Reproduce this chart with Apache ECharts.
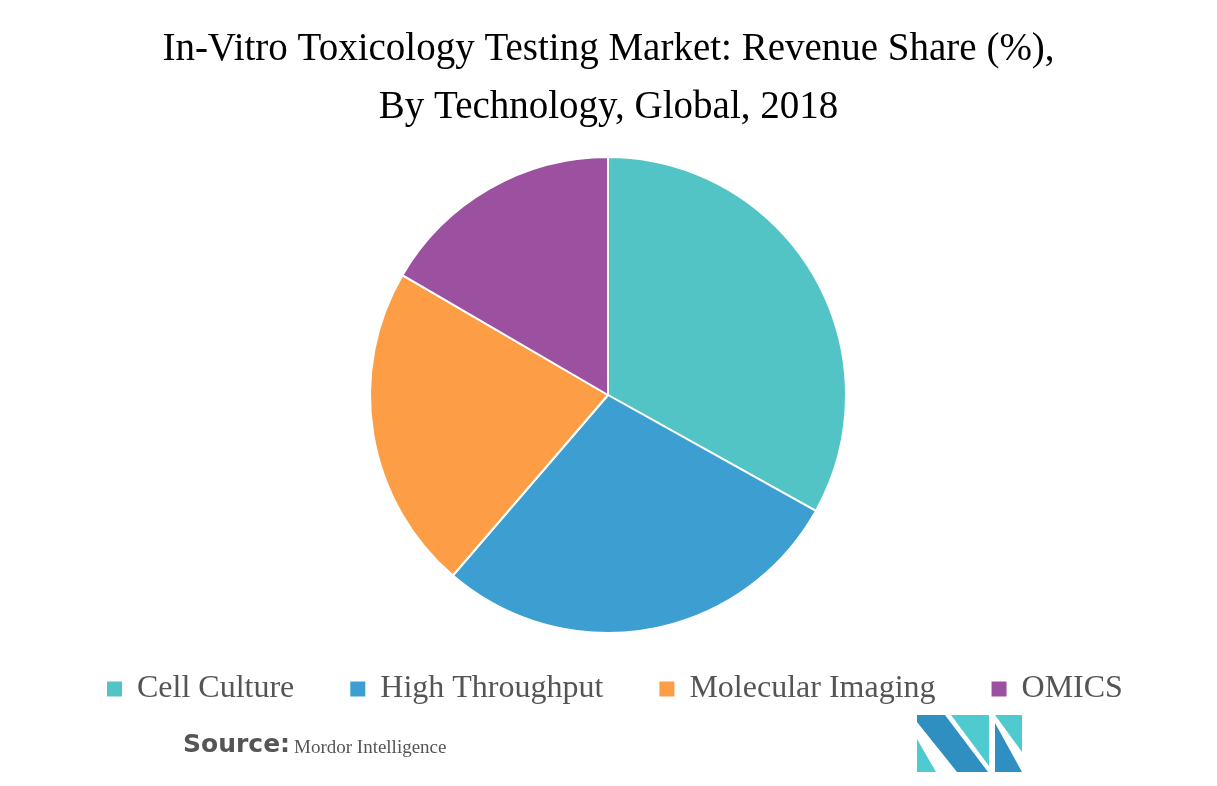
<!DOCTYPE html>
<html><head><meta charset="utf-8">
<script src="https://cdn.jsdelivr.net/npm/echarts@6/dist/echarts.min.js"></script>
<style>html,body{margin:0;padding:0;background:#fff}#c{width:1217px;height:786px}</style>
</head><body><div id="c"></div>
<script>
var categories = ["Cell Culture", "High Throughput", "Molecular Imaging", "OMICS"];
var values = [33.1, 28.2, 22.1, 16.6];
var colors = ["#52C4C6", "#3D9FD1", "#FD9E46", "#9B51A0"];
var titleLines = ["In-Vitro Toxicology Testing Market: Revenue Share (%),", "By Technology, Global, 2018"];

var chart = echarts.init(document.getElementById('c'));
chart.setOption({
  animation: false,
  color: colors,
  title: {
    text: titleLines.join('\n'),
    left: 'center', top: 16,
    textStyle: {fontFamily: 'Liberation Serif', fontWeight: 'normal', fontSize: 39, color: '#000', lineHeight: 58}
  },
  legend: {
    top: 668, left: 100,
    itemWidth: 17, itemHeight: 17, itemGap: 54,
    icon: 'rect',
    textStyle: {fontFamily: 'Liberation Serif', fontSize: 32, color: '#555', padding: [0, 0, 0, 9]},
    data: categories
  },
  series: [{
    type: 'pie',
    center: [608, 395], radius: 238,
    startAngle: 90, clockwise: true,
    label: {show: false}, labelLine: {show: false},
    itemStyle: {borderColor: '#fff', borderWidth: 2},
    data: categories.map(function(c, i){ return {name: c, value: values[i]}; })
  }],
  graphic: [
    {type: 'text', left: 183, top: 733, style: {text: 'Source:', fontFamily: 'DejaVu Sans', fontWeight: 'bold', fontSize: 25, fill: '#555'}},
    {type: 'text', left: 294, top: 739, style: {text: 'Mordor Intelligence', fontFamily: 'Liberation Serif', fontSize: 19, fill: '#555'}},
    {type: 'polygon', shape: {points: [[917,739],[917,772],[936,772]]}, style: {fill: '#4FCBCF'}},
    {type: 'polygon', shape: {points: [[917,715],[945,715],[988,772],[957,772],[917,722]]}, style: {fill: '#2E8FC0'}},
    {type: 'polygon', shape: {points: [[951,715],[989,715],[989,766]]}, style: {fill: '#4FCBCF'}},
    {type: 'polygon', shape: {points: [[995,715],[1022,715],[1022,752]]}, style: {fill: '#4FCBCF'}},
    {type: 'polygon', shape: {points: [[995,723],[1022,772],[995,772]]}, style: {fill: '#2E8FC0'}}
  ]
});
</script></body></html>
